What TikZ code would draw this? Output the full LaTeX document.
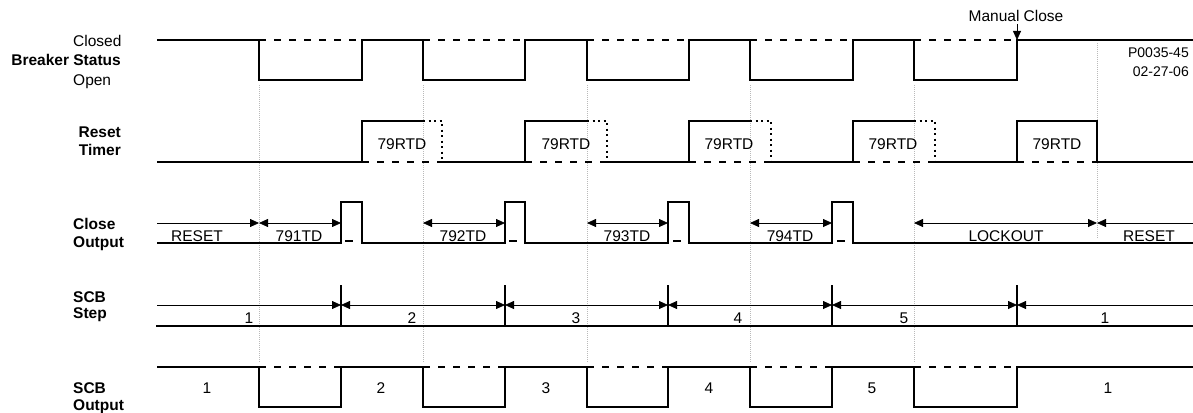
\documentclass[tikz,border=0pt]{standalone}
\usepackage{fontspec}
\setmainfont{Liberation Sans}
\usetikzlibrary{arrows.meta}
\begin{document}
\begin{tikzpicture}[x=1pt,y=-1pt,
  >={Triangle[length=9pt,width=8pt]},
  sig/.style={line width=2pt},
  ghost/.style={line width=1.6pt, dash pattern=on 7pt off 8pt},
  dotsig/.style={line width=2pt, dash pattern=on 2pt off 3.5pt},
  guide/.style={gray!55, line width=0.7pt, dash pattern=on 1pt off 1pt},
  dim/.style={line width=0.8pt},
  lbl/.style={inner sep=0pt, font=\fontsize{15.5}{18}\selectfont},
  blbl/.style={inner sep=0pt, font=\bfseries\fontsize{15.5}{18}\selectfont},
  slbl/.style={inner sep=0pt, font=\fontsize{14}{16}\selectfont}]
\useasboundingbox (0,0) rectangle (1193,412);

% guide lines
\foreach \x in {259,423,587,750,914} \draw[guide] (\x,85) -- (\x,362);
\draw[guide] (1097,43) -- (1097,238);

% ---------- Breaker Status ----------
\draw[sig] (157,40) -| (259,80) -| (362,40) -| (423,80) -| (525,40) -| (587,80) -| (689,40) -| (750,80) -| (853,40) -| (914,80) -| (1017,40) -- (1193,40);
\foreach \a/\b in {259/362,423/525,587/689,750/853,914/1017} \draw[ghost] (\a,40) -- (\b,40);

% ---------- Reset Timer ----------
\draw[sig] (157,162) -| (362,121) -- (423,121);
\draw[dotsig] (423,121) -| (442,162);
\draw[sig] (442,162) -| (525,121) -- (587,121);
\draw[dotsig] (587,121) -| (607,162);
\draw[sig] (607,162) -| (689,121) -- (750,121);
\draw[dotsig] (750,121) -| (771,162);
\draw[sig] (771,162) -| (853,121) -- (914,121);
\draw[dotsig] (914,121) -| (935,162);
\draw[sig] (935,162) -| (1017,121) -| (1097,162) -- (1193,162);
\foreach \a/\b in {362/442,525/607,689/771,853/935,1017/1097} \draw[ghost] (\a,162) -- (\b,162);

% ---------- Close Output ----------
\draw[sig] (157,243) -| (341,202) -| (362,243) -| (505,202) -| (525,243) -| (668,202) -| (689,243) -| (832,202) -| (853,243) -- (1193,243);
\foreach \a in {345,509,673,837} \draw[sig] (\a,241) -- ++(8,0);

\coordinate (c0) at (157,223);
\coordinate (c1) at (259,223);
\coordinate (c2) at (341,223);
\coordinate (c3) at (423,223);
\coordinate (c4) at (505,223);
\coordinate (c5) at (587,223);
\coordinate (c6) at (668,223);
\coordinate (c7) at (750,223);
\coordinate (c8) at (832,223);
\coordinate (c9) at (914,223);
\coordinate (c10) at (1097,223);
\coordinate (c11) at (1193,223);
\draw[dim,->] (c0) -- (c1);
\draw[dim,<->] (c1) -- (c2);
\draw[dim,<->] (c3) -- (c4);
\draw[dim,<->] (c5) -- (c6);
\draw[dim,<->] (c7) -- (c8);
\draw[dim,<->] (c9) -- (c10);
\draw[dim,<-] (c10) -- (c11);

% ---------- SCB Step ----------
\draw[sig] (156,326) -- (1193,326);
\foreach \x in {341,505,668,832,1017} \draw[sig] (\x,285) -- (\x,326);
\coordinate (s0) at (157,305);
\coordinate (s1) at (341,305);
\coordinate (s2) at (505,305);
\coordinate (s3) at (668,305);
\coordinate (s4) at (832,305);
\coordinate (s5) at (1017,305);
\coordinate (s6) at (1193,305);
\draw[dim,->] (s0) -- (s1);
\draw[dim,<->] (s1) -- (s2);
\draw[dim,<->] (s2) -- (s3);
\draw[dim,<->] (s3) -- (s4);
\draw[dim,<->] (s4) -- (s5);
\draw[dim,<-] (s5) -- (s6);

% ---------- SCB Output ----------
\draw[sig] (157,367) -| (259,407) -| (341,367) -| (423,407) -| (505,367) -| (587,407) -| (668,367) -| (750,407) -| (832,367) -| (914,407) -| (1017,367) -- (1193,367);
\foreach \a/\b in {259/341,423/505,587/668,750/832,914/1017} \draw[ghost] (\a,367) -- (\b,367);

% ---------- Manual close ----------
\node[lbl, anchor=base] (mc) at (1016,22) {Manual Close};
\coordinate (mctop) at (1017,24);
\coordinate (mcbot) at (1017,40);
\draw[dim,->] (mctop) -- (mcbot);

\node[slbl, anchor=base east] (pn) at (1189,58) {P0035-45};
\node[slbl, anchor=base east] (dt) at (1189,77) {02-27-06};

% ---------- Left labels ----------
\node[lbl, anchor=base west] (closed) at (73,47) {Closed};
\node[blbl, anchor=base east] (bs) at (121,66) {Breaker Status};
\node[lbl, anchor=base west] (open) at (73,85) {Open};
\node[blbl, anchor=base east] (rs) at (121,137) {Reset};
\node[blbl, anchor=base east] (tm) at (121,155) {Timer};
\node[blbl, anchor=base west] (cl) at (73,229) {Close};
\node[blbl, anchor=base west] (co) at (73,247) {Output};
\node[blbl, anchor=base west] (scb1) at (73,302) {SCB};
\node[blbl, anchor=base west] (st) at (73,318) {Step};
\node[blbl, anchor=base west] (scb2) at (73,393) {SCB};
\node[blbl, anchor=base west] (so) at (73,410) {Output};

% ---------- 79RTD ----------
\node[lbl, anchor=base] (r1) at (402,149) {79RTD};
\node[lbl, anchor=base] (r2) at (566,149) {79RTD};
\node[lbl, anchor=base] (r3) at (729,149) {79RTD};
\node[lbl, anchor=base] (r4) at (893,149) {79RTD};
\node[lbl, anchor=base] (r5) at (1057,149) {79RTD};

% ---------- Close output labels ----------
\node[lbl, anchor=base] (t0) at (197,241) {RESET};
\node[lbl, anchor=base] (t1) at (299,241) {791TD};
\node[lbl, anchor=base] (t2) at (463,241) {792TD};
\node[lbl, anchor=base] (t3) at (627,241) {793TD};
\node[lbl, anchor=base] (t4) at (790,241) {794TD};
\node[lbl, anchor=base] (t5) at (1006,241) {LOCKOUT};
\node[lbl, anchor=base] (t6) at (1149,241) {RESET};

% ---------- SCB step labels ----------
\node[lbl, anchor=base] (n1) at (249,323) {1};
\node[lbl, anchor=base] (n2) at (412,323) {2};
\node[lbl, anchor=base] (n3) at (576,323) {3};
\node[lbl, anchor=base] (n4) at (738,323) {4};
\node[lbl, anchor=base] (n5) at (904,323) {5};
\node[lbl, anchor=base] (n6) at (1105,323) {1};

% ---------- SCB output labels ----------
\node[lbl, anchor=base] (o1) at (207,393) {1};
\node[lbl, anchor=base] (o2) at (381,393) {2};
\node[lbl, anchor=base] (o3) at (546,393) {3};
\node[lbl, anchor=base] (o4) at (709,393) {4};
\node[lbl, anchor=base] (o5) at (872,393) {5};
\node[lbl, anchor=base] (o6) at (1108,393) {1};
\end{tikzpicture}
\end{document}
